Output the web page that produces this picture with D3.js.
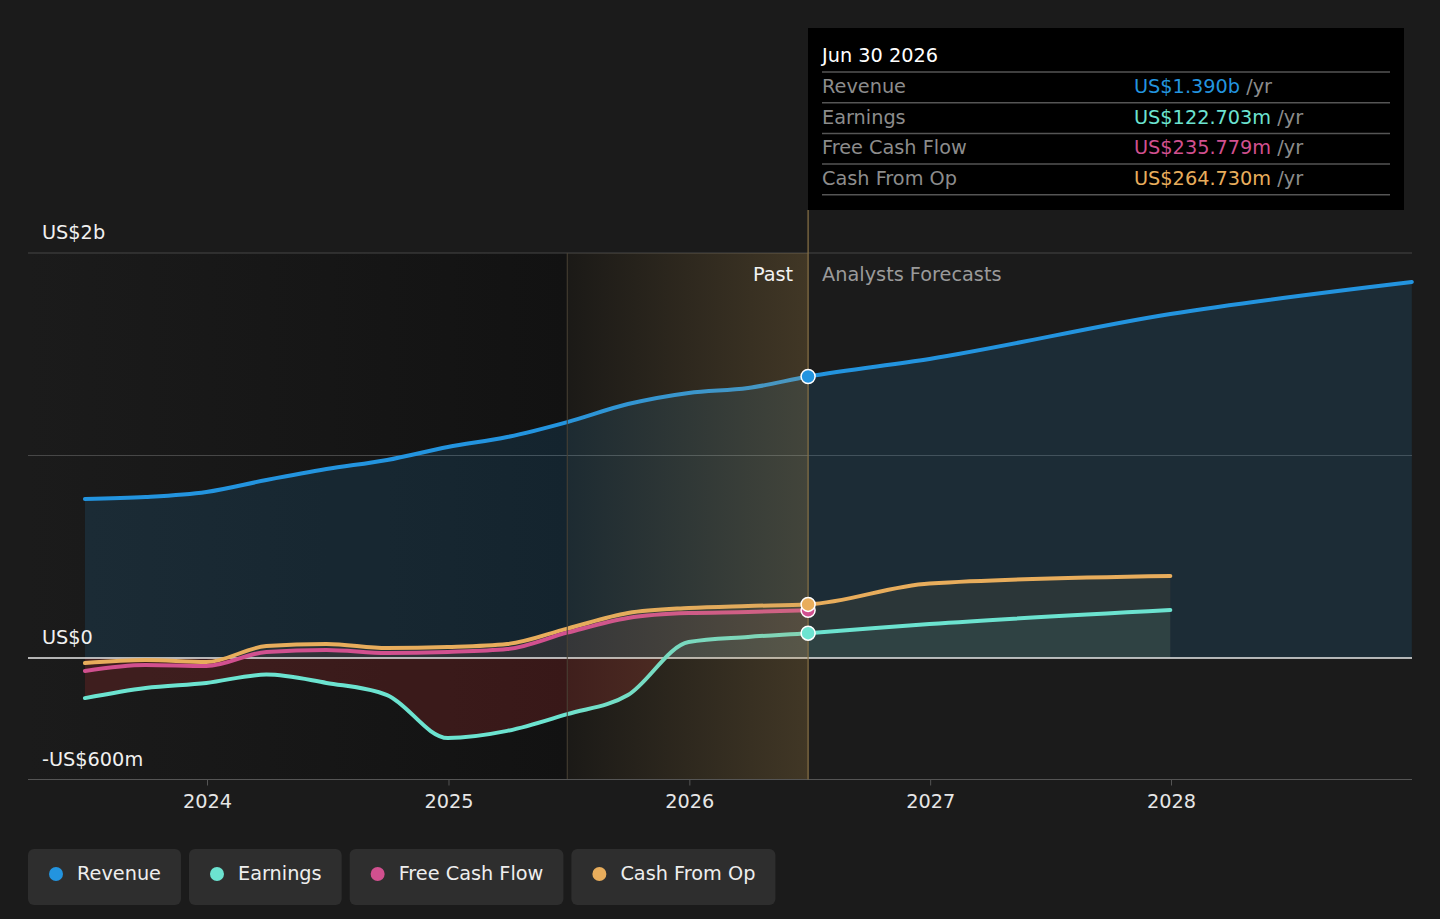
<!DOCTYPE html>
<html>
<head>
<meta charset="utf-8">
<script src="https://cdn.jsdelivr.net/npm/d3@7"></script>
<style>
  body { margin: 0; background: #1b1b1b; }
  svg { display: block; font-family: "DejaVu Sans", sans-serif; }
</style>
</head>
<body>
<div id="chart"></div>
<script>
// values in US$ millions
const pastDates = ["2023-06-30", "2023-09-30", "2023-12-31", "2024-03-31", "2024-06-30", "2024-09-30",
  "2024-12-31", "2025-03-31", "2025-06-30", "2025-09-30", "2025-12-31", "2026-03-31", "2026-06-30"];
const forecastDates = ["2026-12-31", "2027-12-31", "2028-12-31"];

const revenuePast = [785, 795, 820, 879, 933, 978, 1042, 1091, 1165, 1254, 1309, 1333, 1390];
const revenueForecast = [1477, 1699, 1857];
const earningsPast = [-198, -148, -123, -82, -123, -183, -395, -360, -277, -183, 79, 104, 122.703];
const earningsForecast = [168, 237];
const fcfPast = [-64, -35, -40, 30, 40, 25, 30, 44, 125, 198, 222, 227, 235.779];
const cfoPast = [-25, -10, -20, 59, 69, 49, 54, 69, 145, 222, 247, 257, 264.730];
const cfoForecast = [368, 405];

const yTicks = [2000, 0, -600];
const yTickLabels = ["US$2b", "US$0", "-US$600m"];
const gridValues = [2000, 1000];
const yearTicks = ["2024-01-01", "2025-01-01", "2026-01-01", "2027-01-01", "2028-01-01"];

const tooltipDate = "Jun 30 2026";
const tooltipRows = [
  { key: "revenue", label: "Revenue", value: "US$1.390b" },
  { key: "earnings", label: "Earnings", value: "US$122.703m" },
  { key: "fcf", label: "Free Cash Flow", value: "US$235.779m" },
  { key: "cfo", label: "Cash From Op", value: "US$264.730m" }
];

const colors = { revenue: "#2394df", earnings: "#6ce3d0", fcf: "#d1508f", cfo: "#e8ad5c" };
const legendItems = [
  { name: "Revenue", color: colors.revenue },
  { name: "Earnings", color: colors.earnings },
  { name: "Free Cash Flow", color: colors.fcf },
  { name: "Cash From Op", color: colors.cfo }
];

const parse = d3.timeParse("%Y-%m-%d");
const zip = (dates, vals) => dates.map((d, i) => ({ date: parse(d), val: vals[i] }));

const series = [
  { key: "revenue", data: zip(pastDates.concat(forecastDates), revenuePast.concat(revenueForecast)), fill: 0.14 },
  { key: "cfo", data: zip(pastDates.concat(forecastDates.slice(0, 2)), cfoPast.concat(cfoForecast)), fill: 0.08 },
  { key: "fcf", data: zip(pastDates, fcfPast), fill: 0.05 },
  { key: "earnings", data: zip(pastDates.concat(forecastDates.slice(0, 2)), earningsPast.concat(earningsForecast)), fill: 0.07 }
];

const W = 1440, H = 919;
const left = 28, right = 1412;
const FS = "19.3px";

const svg = d3.select("#chart").append("svg").attr("width", W).attr("height", H);
const defs = svg.append("defs");

const x = d3.scaleTime().domain([parse("2024-01-01"), parse("2028-01-01")]).range([207, 1171]);
const y = d3.scaleLinear().domain([-600, 2000]).range([779.5, 253]);

const nowDate = parse("2026-06-30");
const bandStart = parse("2025-06-30");

// background
svg.append("rect").attr("width", W).attr("height", H).attr("fill", "#1b1b1b");

// darker past region
const gPast = defs.append("linearGradient").attr("id", "pastBg");
gPast.append("stop").attr("offset", "0%").attr("stop-color", "#1b1b1b");
gPast.append("stop").attr("offset", "100%").attr("stop-color", "#121212");
svg.append("rect")
  .attr("x", left).attr("y", y(2000))
  .attr("width", x(bandStart) - left).attr("height", y(-600) - y(2000))
  .attr("fill", "url(#pastBg)");
svg.append("rect")
  .attr("x", x(bandStart)).attr("y", y(2000))
  .attr("width", x(nowDate) - x(bandStart)).attr("height", y(-600) - y(2000))
  .attr("fill", "#141414");

// grid
svg.selectAll(".grid").data(gridValues).join("line")
  .attr("x1", left).attr("x2", right)
  .attr("y1", d => y(d)).attr("y2", d => y(d))
  .attr("stroke", "#474747").attr("stroke-width", 1);

// clip paths for above / below zero
defs.append("clipPath").attr("id", "above").append("rect")
  .attr("x", 0).attr("y", 0).attr("width", W).attr("height", y(0));
defs.append("clipPath").attr("id", "below").append("rect")
  .attr("x", 0).attr("y", y(0)).attr("width", W).attr("height", H);

const area = d3.area().x(d => x(d.date)).y0(y(0)).y1(d => y(d.val)).curve(d3.curveMonotoneX);
const line = d3.line().x(d => x(d.date)).y(d => y(d.val)).curve(d3.curveMonotoneX);

series.forEach(s => {
  svg.append("path").datum(s.data)
    .attr("d", area).attr("clip-path", "url(#above)")
    .attr("fill", colors[s.key]).attr("fill-opacity", s.fill);
});
// negative earnings area in red
svg.append("path").datum(series[3].data)
  .attr("d", area).attr("clip-path", "url(#below)")
  .attr("fill", "#d03030").attr("fill-opacity", 0.2);

// zero line
svg.append("line")
  .attr("x1", left).attr("x2", right).attr("y1", y(0)).attr("y2", y(0))
  .attr("stroke", "#e8e8e8").attr("stroke-width", 1.5);

// lines
series.forEach(s => {
  svg.append("path").datum(s.data)
    .attr("d", line).attr("fill", "none")
    .attr("stroke", colors[s.key]).attr("stroke-width", 4)
    .attr("stroke-linecap", "round");
});

// highlighted last year overlay
const gBand = defs.append("linearGradient").attr("id", "band");
gBand.append("stop").attr("offset", "0%").attr("stop-color", "rgb(200,160,90)").attr("stop-opacity", 0.04);
gBand.append("stop").attr("offset", "100%").attr("stop-color", "rgb(200,160,90)").attr("stop-opacity", 0.25);
svg.append("rect")
  .attr("x", x(bandStart)).attr("y", y(2000))
  .attr("width", x(nowDate) - x(bandStart)).attr("height", y(-600) - y(2000))
  .attr("fill", "url(#band)");
svg.append("line")
  .attr("x1", x(bandStart)).attr("x2", x(bandStart)).attr("y1", y(2000)).attr("y2", y(-600))
  .attr("stroke", "#4a4234").attr("stroke-width", 1);

// x axis
const xAxis = d3.axisBottom(x)
  .tickValues(yearTicks.map(parse))
  .tickFormat(d3.timeFormat("%Y"))
  .tickSize(6).tickPadding(9);
const gx = svg.append("g").attr("transform", `translate(0,${y(-600)})`).call(xAxis);
gx.select(".domain").remove();
gx.insert("line", ":first-child").attr("x1", left).attr("x2", right).attr("stroke", "#555");
gx.selectAll(".tick line").attr("stroke", "#555");
gx.selectAll(".tick text").attr("fill", "#e6e6e6").style("font-size", FS)
  .style("font-family", "DejaVu Sans");

// y labels
svg.selectAll(".ylab").data(yTicks).join("text")
  .attr("x", 42).attr("y", d => y(d) - 14)
  .attr("fill", "#f0f0f0").style("font-size", FS)
  .text((d, i) => yTickLabels[i]);

// now line
svg.append("line")
  .attr("x1", x(nowDate)).attr("x2", x(nowDate)).attr("y1", 210).attr("y2", y(-600))
  .attr("stroke", "#8a7346").attr("stroke-width", 1.2);

svg.append("text").attr("x", x(nowDate) - 15).attr("y", 281)
  .attr("text-anchor", "end").attr("fill", "#f2f2f2").style("font-size", FS).text("Past");
svg.append("text").attr("x", x(nowDate) + 14).attr("y", 281)
  .attr("fill", "#9a9a9a").style("font-size", FS).text("Analysts Forecasts");

// dots at now
const nowVals = [
  { key: "revenue", val: revenuePast[12] },
  { key: "fcf", val: fcfPast[12] },
  { key: "cfo", val: cfoPast[12] },
  { key: "earnings", val: earningsPast[12] }
];
svg.selectAll(".dot").data(nowVals).join("circle")
  .attr("cx", x(nowDate)).attr("cy", d => y(d.val)).attr("r", 7)
  .attr("fill", d => colors[d.key]).attr("stroke", "#fff").attr("stroke-width", 1.5);

// tooltip
const tt = svg.append("g").attr("transform", "translate(808,28)");
tt.append("rect").attr("width", 596).attr("height", 182).attr("fill", "#000");
tt.append("text").attr("x", 14).attr("y", 34).attr("fill", "#fff").style("font-size", FS).text(tooltipDate);
const rowH = 30.7;
tooltipRows.forEach((r, i) => {
  const ry = 44 + i * rowH;
  tt.append("line").attr("x1", 14).attr("x2", 582).attr("y1", ry).attr("y2", ry)
    .attr("stroke", "#555").attr("stroke-width", 1.5);
  tt.append("text").attr("x", 14).attr("y", ry + 21).attr("fill", "#8c8c8c")
    .style("font-size", FS).text(r.label);
  const t = tt.append("text").attr("x", 326).attr("y", ry + 21).style("font-size", FS);
  t.append("tspan").attr("fill", colors[r.key]).text(r.value);
  t.append("tspan").attr("fill", "#8c8c8c").text(" /yr");
});
tt.append("line").attr("x1", 14).attr("x2", 582)
  .attr("y1", 44 + 4 * rowH).attr("y2", 44 + 4 * rowH)
  .attr("stroke", "#555").attr("stroke-width", 1.5);

// legend
const legend = svg.append("g").attr("transform", "translate(28,849)");
let lx = 0;
legendItems.forEach(item => {
  const g = legend.append("g").attr("transform", `translate(${lx},0)`);
  const txt = g.append("text").attr("x", 49).attr("y", 31).attr("fill", "#eee")
    .style("font-size", FS).text(item.name);
  const w = txt.node().getComputedTextLength() + 49 + 20;
  g.insert("rect", ":first-child").attr("width", w).attr("height", 56).attr("rx", 6)
    .attr("fill", "#2e2e2e");
  g.append("circle").attr("cx", 28).attr("cy", 25).attr("r", 7).attr("fill", item.color);
  lx += w + 8;
});
</script>
</body>
</html>
